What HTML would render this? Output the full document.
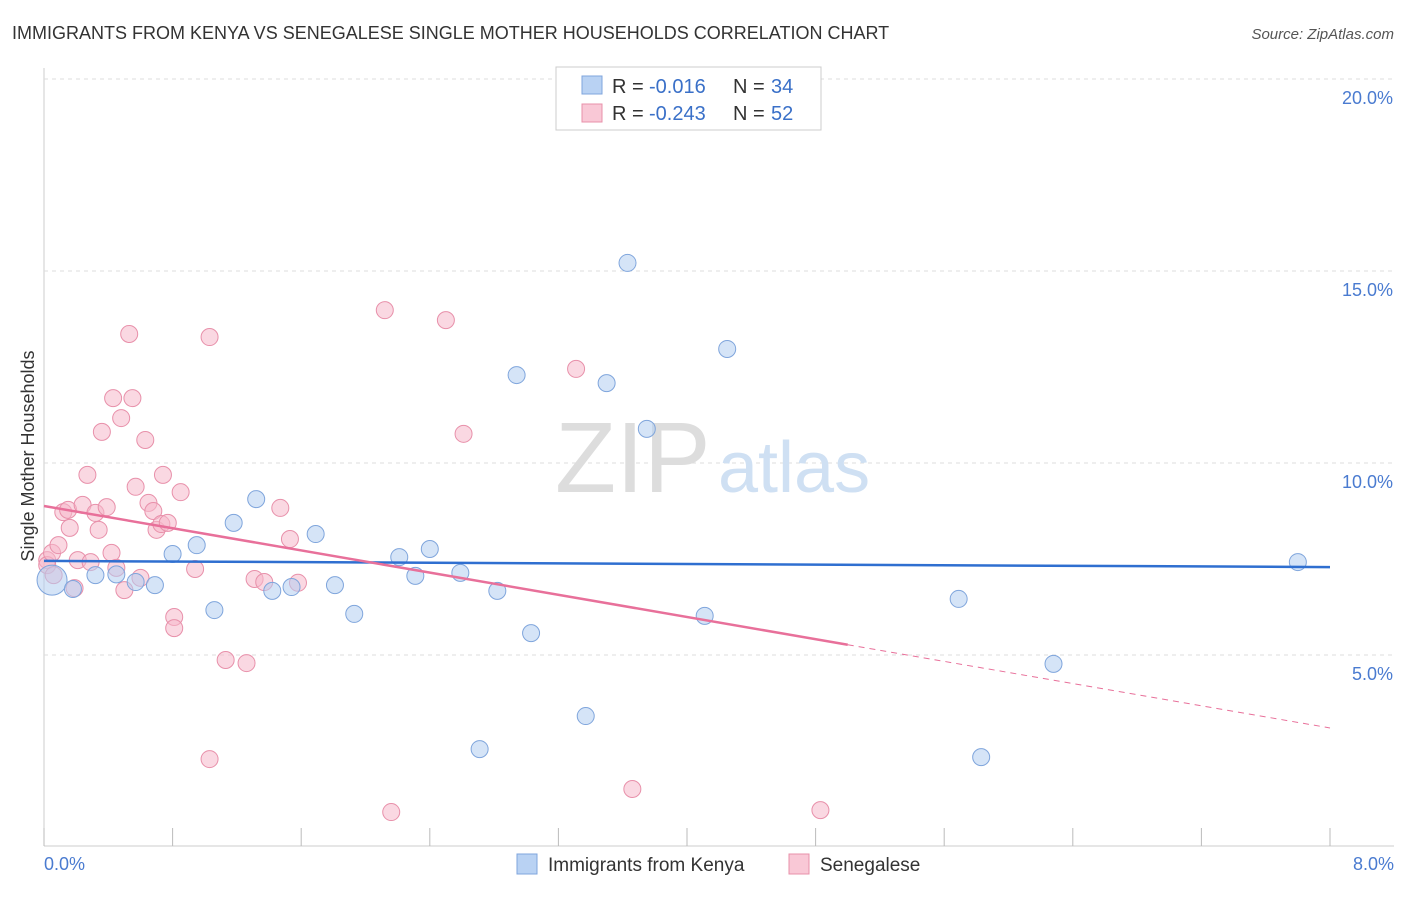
<!DOCTYPE html>
<html><head><meta charset="utf-8"><style>
body{margin:0;background:#fff;font-family:"Liberation Sans",sans-serif;}
svg text{font-family:"Liberation Sans",sans-serif;}
</style></head><body>
<svg id="c" width="1406" height="892">
<text x="12" y="39" font-size="18" fill="#333">IMMIGRANTS FROM KENYA VS SENEGALESE SINGLE MOTHER HOUSEHOLDS CORRELATION CHART</text>
<text x="1394" y="39" font-size="15" fill="#555" font-style="italic" text-anchor="end">Source: ZipAtlas.com</text>
<g id="grid"></g>
<text x="555" y="492" font-size="100" fill="#ddd" font-family="Liberation Serif">ZIP</text>
<text x="718" y="492" font-size="72" fill="#cfe0f3">atlas</text>
<g id="marks"></g>
<text x="34" y="456" font-size="18" fill="#333" transform="rotate(-90 34 456)" text-anchor="middle">Single Mother Households</text>
<text x="44" y="870" font-size="18" fill="#4a7bd0">0.0%</text>
<text x="1394" y="870" font-size="18" fill="#4a7bd0" text-anchor="end">8.0%</text>
<g>
<rect x="556" y="67" width="265" height="63" fill="#fff" stroke="#ccc"/>
<rect x="582" y="76" width="20" height="18" fill="#b9d2f3" stroke="#7fa5dc"/>
<rect x="582" y="104" width="20" height="18" fill="#f9c8d6" stroke="#e890aa"/>
<text x="612" y="93" font-size="20" fill="#333">R =</text>
<text x="649" y="93" font-size="20" fill="#3a70c8">-0.016</text>
<text x="733" y="93" font-size="20" fill="#333">N =</text>
<text x="771" y="93" font-size="20" fill="#3a70c8">34</text>
<text x="612" y="120" font-size="20" fill="#333">R =</text>
<text x="649" y="120" font-size="20" fill="#3a70c8">-0.243</text>
<text x="733" y="120" font-size="20" fill="#333">N =</text>
<text x="771" y="120" font-size="20" fill="#3a70c8">52</text>
</g>
<g>
<rect x="517" y="854" width="20" height="20" fill="#b9d2f3" stroke="#7fa5dc"/>
<text x="548" y="871" font-size="19" fill="#333">Immigrants from Kenya</text>
<rect x="789" y="854" width="20" height="20" fill="#f9c8d6" stroke="#e890aa"/>
<text x="820" y="871" font-size="19" fill="#333">Senegalese</text>
</g>
</svg>
<script>
const yTicks=[5,10,15,20];
const yTickLabels=["5.0%","10.0%","15.0%","20.0%"];
const xTicks=[0,0.8,1.6,2.4,3.2,4.0,4.8,5.6,6.4,7.2,8.0];
const kenyaX=[0.05,0.18,0.32,0.45,0.57,0.69,0.80,0.95,1.06,1.18,1.32,1.42,1.54,1.69,1.81,1.93,2.21,2.31,2.40,2.59,2.71,2.82,2.94,3.03,3.37,3.50,3.63,3.75,4.11,4.25,5.69,5.83,6.28,7.80];
const kenyaY=[6.95,6.72,7.08,7.10,6.90,6.82,7.63,7.86,6.17,8.44,9.06,6.67,6.77,8.15,6.82,6.07,7.55,7.06,7.76,7.14,2.55,6.67,12.29,5.57,3.41,12.08,15.21,10.89,6.02,12.97,6.46,2.34,4.77,7.42];
const senX=[0.02,0.02,0.05,0.09,0.06,0.12,0.15,0.16,0.19,0.21,0.27,0.24,0.29,0.32,0.34,0.36,0.39,0.42,0.43,0.45,0.48,0.50,0.53,0.55,0.57,0.60,0.63,0.65,0.68,0.70,0.73,0.74,0.77,0.81,0.81,0.85,0.94,1.03,1.03,1.13,1.26,1.31,1.37,1.47,1.53,1.58,2.12,2.16,2.50,2.61,3.31,3.66,4.83];
const senY=[7.47,7.34,7.66,7.86,7.08,8.72,8.78,8.31,6.74,7.47,9.69,8.91,7.42,8.70,8.26,10.81,8.85,7.66,11.69,7.27,11.17,6.69,13.36,11.69,9.38,7.01,10.60,8.96,8.75,8.26,8.41,9.69,8.44,5.99,5.70,9.24,7.24,13.28,2.29,4.87,4.79,6.98,6.90,8.83,8.02,6.88,13.98,0.91,13.72,10.76,12.45,1.51,0.96];
const kenyaTrend=[7.45,7.29];
const senTrend=[8.88,3.10];
const senSolidEnd=5.0;
const X=v=>44+v*160.75, Y=v=>847-v*38.4;
const NS="http://www.w3.org/2000/svg";
function mk(t,a,p){const e=document.createElementNS(NS,t);for(const k in a)e.setAttribute(k,a[k]);p.appendChild(e);return e;}
const g=document.getElementById('grid'),m=document.getElementById('marks');
const ax=mk('line',{x1:44,y1:68,x2:44,y2:846,stroke:'#ccc'},g);


const bx=mk('line',{x1:44,y1:846,x2:1394,y2:846,stroke:'#ccc'},g);


yTicks.forEach((t,i)=>{
 const l=mk('line',{x1:44,x2:1394,y1:Y(t),y2:Y(t),stroke:'#ddd','stroke-dasharray':'4,4'},g);
 
 
 const tx=mk('text',{x:1393,y:Y(t)+25,'font-size':18,fill:'#4a7bd0','text-anchor':'end'},g);
 tx.textContent=yTickLabels[i];
 
 
});
xTicks.forEach(t=>{
 const l=mk('line',{x1:X(t),x2:X(t),y1:828,y2:846,stroke:'#bbb'},g);
 
 
});
function dots(xs,ys,fill,stroke,name){
 xs.forEach((x,i)=>{
  const c=mk('circle',{cx:X(x),cy:Y(ys[i]),r:(name==='kenya-point'&&i===0)?15:8.5,fill:fill,'fill-opacity':0.55,stroke:stroke,'stroke-width':1},m);
  
  
 });
}
dots(senX,senY,'#f6b8cb','#e890aa','senegalese-point');
dots(kenyaX,kenyaY,'#b3cdf0','#7fa5dc','kenya-point');
const kl=mk('line',{x1:X(0),y1:Y(kenyaTrend[0]),x2:X(8),y2:Y(kenyaTrend[1]),stroke:'#2f6fd0','stroke-width':2.5},m);


const sl=v=>senTrend[0]+(senTrend[1]-senTrend[0])*v/8;
const s1=mk('line',{x1:X(0),y1:Y(sl(0)),x2:X(senSolidEnd),y2:Y(sl(senSolidEnd)),stroke:'#e8709a','stroke-width':2.5},m);


const s2=mk('line',{x1:X(senSolidEnd),y1:Y(sl(senSolidEnd)),x2:X(8),y2:Y(sl(8)),stroke:'#e8709a','stroke-width':1,'stroke-dasharray':'6,5'},m);


</script>
</body></html>
